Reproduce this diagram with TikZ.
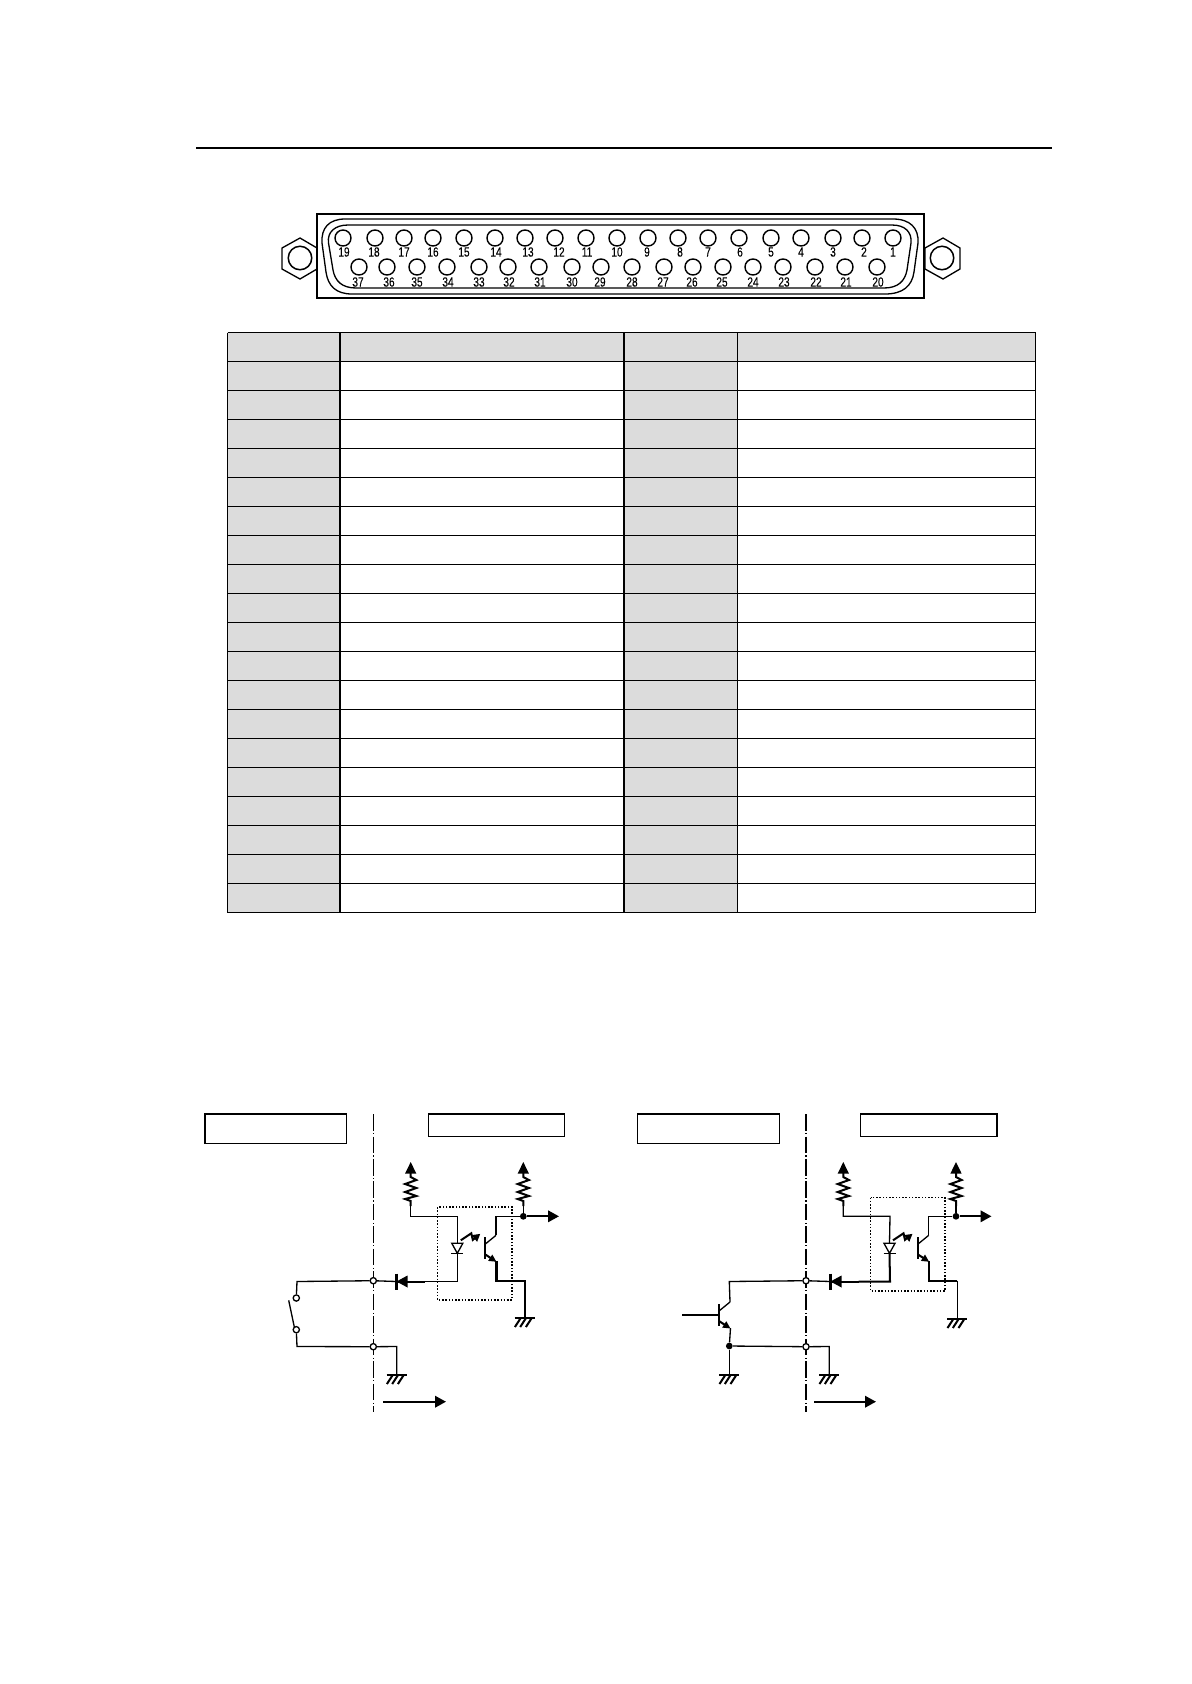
\documentclass[tikz,border=0pt]{standalone}
\usepackage{fontspec}
\usepackage[dvipsnames]{xcolor}
\usetikzlibrary{arrows.meta}
\newfontfamily\pinfont[FakeStretch=0.76,FakeBold=0.12]{Liberation Sans}
\definecolor{cellgrey}{HTML}{DCDCDC}
\tikzset{
    wire/.style={line width=0.75pt, line join=miter},
    heavy/.style={line width=1.15pt, line join=miter},
    box/.style={draw, line width=0.8pt},
    term/.style={circle, draw, fill=white, line width=0.75pt, minimum size=0.125cm, inner sep=0pt},
    dot/.style={circle, fill=black, minimum size=0.135cm, inner sep=0pt},
    pin/.style={circle, draw, line width=0.8pt, minimum size=0.32cm, inner sep=0pt},
    pinno/.style={font=\pinfont\fontsize{7.6pt}{8pt}\selectfont, inner sep=0pt},
    flow/.style={heavy, -{Triangle[length=0.22cm, width=0.23cm]}},
    gnd/.pic={
        \draw[heavy] (-10,0) -- (10,0);
        \foreach \dx in {-4.3,1,6.7} \draw[heavy] (\dx,0.5) -- (\dx-5.5,9);
    },
    pullup/.pic={
        \fill (0,0) -- (5.6,11.5) -- (-5.6,11.5) -- cycle;
        \draw[heavy] (0,11) -- (0,15) -- (5.6,18) -- (-5.6,22) -- (5.6,26) -- (-5.6,30) -- (5.6,34) -- (-5.6,37) -- (0,39) -- (0,44);
        \coordinate (-end) at (0,44);
    },
    npn/.pic={
        \draw[line width=1.3pt] (0,-11) -- (0,11);
        \draw[wire] (0,-4) -- (11,-13);
        \draw[heavy, -{Triangle[length=0.15cm, width=0.14cm]}] (0,6) -- (11.5,13.5);
        \coordinate (-c) at (11,-13);
        \coordinate (-e) at (11.5,13);
    },
    led/.pic={
        \draw[wire] (-5.5,-5) -- (5.5,-5) -- (0,5) -- cycle;
        \draw[wire] (-6,5) -- (6,5);
        \draw[heavy, -{Triangle[length=0.15cm, width=0.16cm]}] (3.5,-8) -- (14,-15) -- (15.5,-8.5) -- (23,-14.5);
        \coordinate (-a) at (0,-5);
        \coordinate (-k) at (0,5);
    },
    rdiode/.pic={
        \fill (0,0) -- (11,-6) -- (11,6) -- cycle;
        \draw[heavy] (0,-8) -- (0,8);
        \coordinate (-k) at (0,0);
        \coordinate (-a) at (28,0);
    },
}

\begin{document}
\begin{tikzpicture}[x=0.02cm, y=-0.02cm]
        \useasboundingbox (0,0) rectangle (1191,1684);
        \draw[line width=0.9pt] (196,148) -- (1052,148);

        % connector shell
        \draw[line width=0.9pt] (317,214) rectangle (924,298);
        \draw[wire] (345,219) -- (893,219) .. controls (910,219) and (919,228) .. (918,243) -- (914,272) .. controls (912,286) and (903,294) .. (885,294) -- (352,294) .. controls (336,294) and (328,286) .. (326,272) -- (322,243) .. controls (321,228) and (329,219) .. (345,219) -- cycle;
        \draw[wire] (348,225) -- (892,225) .. controls (905,225) and (912,232) .. (911,243) -- (907,270) .. controls (905,281) and (898,288) .. (884,288) -- (356,288) .. controls (342,288) and (335,281) .. (333,270) -- (328.5,243) .. controls (327,232) and (335,225) .. (348,225) -- cycle;

        % mounting ears
        \draw[wire] (317,248) -- (300,238) -- (282,248) -- (282,269) -- (300,279) -- (317,269) -- cycle;
        \node[circle, draw, line width=0.85pt, minimum size=0.47cm, inner sep=0pt] (earL) at (300,258) {};
        \draw[wire] (925,248) -- (943,238) -- (960,248) -- (960,269) -- (943,279) -- (925,269) -- cycle;
        \node[circle, draw, line width=0.85pt, minimum size=0.47cm, inner sep=0pt] (earR) at (942,258) {};

        % pins
        \foreach \num/\px/\lx in {19/343/344,18/375/374,17/404/404,16/433/433,15/464/464,14/495/496,13/525/528,12/555/559,11/586/587,10/617/617,9/648/647,8/678/680,7/708/708,6/739/740,5/771/771,4/801/801,3/833/833,2/862/864,1/893/893} {
            \node[pin] (p\num) at (\px,238) {};
            \node[pinno] (n\num) at (\lx,252) {\num};
        }
        \foreach \num/\px/\lx in {37/359/358,36/387/389,35/417/417,34/447/448,33/479/479,32/508/509,31/539/540,30/572/572,29/601/600,28/632/632,27/664/663,26/693/692,25/723/722,24/753/753,23/783/784,22/815/816,21/845/846,20/877/878} {
            \node[pin] (p\num) at (\px,267) {};
            \node[pinno] (n\num) at (\lx,282) {\num};
        }

        % table
        \fill[cellgrey] (227.5,332.5) rectangle (340,912.5);
        \fill[cellgrey] (624,332.5) rectangle (737.5,912.5);
        \fill[cellgrey] (340,332.5) rectangle (1035.5,361.5);
        \foreach \r in {0,...,20} \draw[line width=0.7pt] (227.5,332.5+\r*29) -- (1035.5,332.5+\r*29);
        \foreach \c in {227.5,340,624,737.5,1035.5} \draw[line width=0.7pt] (\c,332.5) -- (\c,912.5);

        % left circuit
        \draw[line width=1.1pt] (205,1114) rectangle (346.5,1143.5);
        \draw[wire] (428.5,1114) rectangle (564.5,1136.5);
        \draw[wire, dash pattern=on 9.4pt off 1.4pt on 0.6pt off 1.4pt] (373.3,1114) -- (373.3,1412);
        \draw[line width=0.85pt, densely dotted] (437.7,1207) rectangle (512,1300);
        \pic (ra) at (410.7,1162) {pullup};
        \pic (rb) at (523.3,1162) {pullup};
        \pic (ledL) at (457.3,1248.3) {led};
        \pic (qL) at (485,1248.3) {npn};
        \pic (dL) at (396.5,1281.5) {rdiode};
        \node[term] (t1) at (373.3,1280.7) {};
        \node[term] (t2) at (373.3,1346.7) {};
        \node[term] (s1) at (296.3,1298) {};
        \node[term] (s2) at (296.3,1329.7) {};
        \node[dot] (jL) at (523.3,1216.3) {};
        \coordinate (endL) at (559,1216.3);
        \draw[wire] (ra-end) |- (457.3,1216.3) -- (ledL-a);
        \draw[wire] (ledL-k) |- (dL-a);
        \draw[heavy] (dL-k) -- (dL-a);
        \draw[wire] (dL-k) -- (t1);
        \draw[wire] (t1) -- (297,1281.5) -- (s1);
        \draw[wire] (s2) -- (297,1346.5) -- (t2);
        \draw[wire] (288.7,1300.3) -- (294.3,1327);
        \draw[wire] (t2) -- (396.7,1346.5) -- (396.7,1375);
        \pic at (396.7,1375) {gnd};
        \draw[wire] (qL-c) |- (jL);
        \draw[wire] (rb-end) -- (jL);
        \draw[flow] (jL) -- (endL);
        \draw[heavy] (qL-e) |- (524.7,1280.7) -- (524.7,1318);
        \pic at (524.7,1318) {gnd};
        \draw[flow] (383.3,1401.7) -- (446,1401.7);

        % right circuit
        \draw[wire] (637.5,1114) rectangle (779.5,1143.5);
        \draw[line width=1.1pt] (860.5,1114) rectangle (997,1136.5);
        \draw[line width=1pt, dash pattern=on 9.4pt off 1.4pt on 0.6pt off 1.4pt] (806,1114) -- (806,1412);
        \draw[line width=0.85pt, densely dotted] (870.7,1197.7) rectangle (945,1291);
        \pic (rc) at (843.3,1162) {pullup};
        \pic (rd) at (956,1162) {pullup};
        \pic (ledR) at (889.5,1248.3) {led};
        \pic (qR) at (917.7,1248.3) {npn};
        \pic (dR) at (830.5,1281.5) {rdiode};
        \node[term] (t3) at (806,1280.7) {};
        \node[term] (t4) at (806,1346.7) {};
        \node[dot] (jR) at (956,1216.3) {};
        \node[dot] (jQ) at (729.3,1346) {};
        \coordinate (endR) at (991.5,1216.3);
        \coordinate (baseQ) at (682,1315);
        \pic (qO) at (719,1315) {npn};
        \draw[wire] (rc-end) |- (890,1216.3) -- (ledR-a);
        \draw[heavy] (ledR-k) -- (890,1281.5) -- (dR-a);
        \draw[heavy] (dR-k) -- (dR-a);
        \draw[wire] (dR-k) -- (t3);
        \draw[wire] (t3) -- (729.3,1281.5) -- (qO-c);
        \draw[wire] (baseQ) -- (719,1315);
        \draw[wire] (qO-e) -- (jQ);
        \draw[wire] (jQ) -- (t4);
        \draw[wire] (jQ) -- (729.3,1375);
        \pic at (729.3,1375) {gnd};
        \draw[wire] (t4) -- (829.3,1346.5) -- (829.3,1375);
        \pic at (829.3,1375) {gnd};
        \draw[wire] (qR-c) |- (jR);
        \draw[wire] (rd-end) -- (jR);
        \draw[flow] (jR) -- (endR);
        \draw[heavy] (qR-e) |- (957.3,1280.7);
        \draw[wire] (957.3,1280.7) -- (957.3,1319);
        \pic at (957.3,1319) {gnd};
        \draw[flow] (814,1401.7) -- (876,1401.7);
\end{tikzpicture}
\end{document}
